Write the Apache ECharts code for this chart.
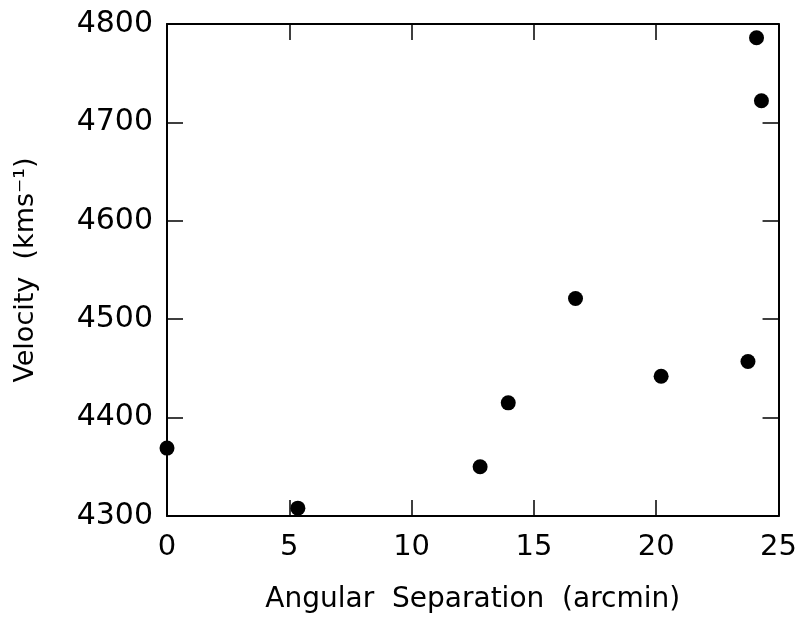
<!DOCTYPE html>
<html>
<head>
<meta charset="utf-8">
<script src="https://cdn.jsdelivr.net/npm/echarts@6/dist/echarts.min.js"></script>
<style>
html,body{margin:0;padding:0;background:#fff;}
#chart{width:800px;height:621px;}
</style>
</head>
<body>
<div id="chart"></div>
<script>
// angular separation (arcmin) and velocity (km/s)
var sep = [0, 5.35, 12.8, 13.95, 16.7, 20.2, 23.75, 24.1, 24.3];
var vel = [4369, 4308, 4350, 4415, 4521, 4442, 4457, 4786, 4722];
var xTicks = [0, 5, 10, 15, 20, 25];
var yTicks = [4300, 4400, 4500, 4600, 4700, 4800];

var pts = [];
for (var i = 0; i < sep.length; i++) {
  pts.push([sep[i], vel[i]]);
}

var font = 'DejaVu Sans';
var lineStyle = {color: '#000', width: 2};
var tickStyle = {color: '#000', width: 1.5};

function plain(v){ return String(v); }

var myChart = echarts.init(document.getElementById('chart'));
var option = {
  backgroundColor: '#fff',
  animation: false,
  grid: {left: 167, right: 15, top: 24, bottom: 105},
  xAxis: [
    {
      type: 'value', min: xTicks[0], max: xTicks[xTicks.length-1], interval: 5,
      position: 'bottom',
      name: 'Angular  Separation  (arcmin)',
      nameLocation: 'middle', nameGap: 70,
      nameTextStyle: {fontFamily: font, fontSize: 28, color: '#000'},
      axisLine: {show: true, onZero: false, lineStyle: lineStyle},
      axisTick: {show: true, inside: true, length: 16, lineStyle: tickStyle},
      axisLabel: {fontFamily: font, fontSize: 29, color: '#000', margin: 17, formatter: plain},
      splitLine: {show: false}
    },
    {
      type: 'value', min: xTicks[0], max: xTicks[xTicks.length-1], interval: 5,
      position: 'top',
      axisLine: {show: true, onZero: false, lineStyle: lineStyle},
      axisTick: {show: true, inside: true, length: 16, lineStyle: tickStyle},
      axisLabel: {show: false},
      splitLine: {show: false}
    }
  ],
  yAxis: [
    {
      type: 'value', min: yTicks[0], max: yTicks[yTicks.length-1], interval: 100,
      position: 'left',
      name: 'Velocity  (kms\u207b\u00b9)',
      nameLocation: 'middle', nameGap: 128,
      nameTextStyle: {fontFamily: font, fontSize: 27, color: '#000'},
      axisLine: {show: true, onZero: false, lineStyle: lineStyle},
      axisTick: {show: true, inside: true, length: 16, lineStyle: tickStyle},
      axisLabel: {fontFamily: font, fontSize: 30, color: '#000', margin: 14, formatter: plain},
      splitLine: {show: false}
    },
    {
      type: 'value', min: yTicks[0], max: yTicks[yTicks.length-1], interval: 100,
      position: 'right',
      axisLine: {show: true, onZero: false, lineStyle: lineStyle},
      axisTick: {show: true, inside: true, length: 16, lineStyle: tickStyle},
      axisLabel: {show: false},
      splitLine: {show: false}
    }
  ],
  series: [
    {
      type: 'scatter',
      xAxisIndex: 0, yAxisIndex: 0,
      symbol: 'circle', symbolSize: 15,
      itemStyle: {color: '#000', opacity: 1},
      clip: false,
      data: pts
    }
  ]
};
myChart.setOption(option);
</script>
</body>
</html>
